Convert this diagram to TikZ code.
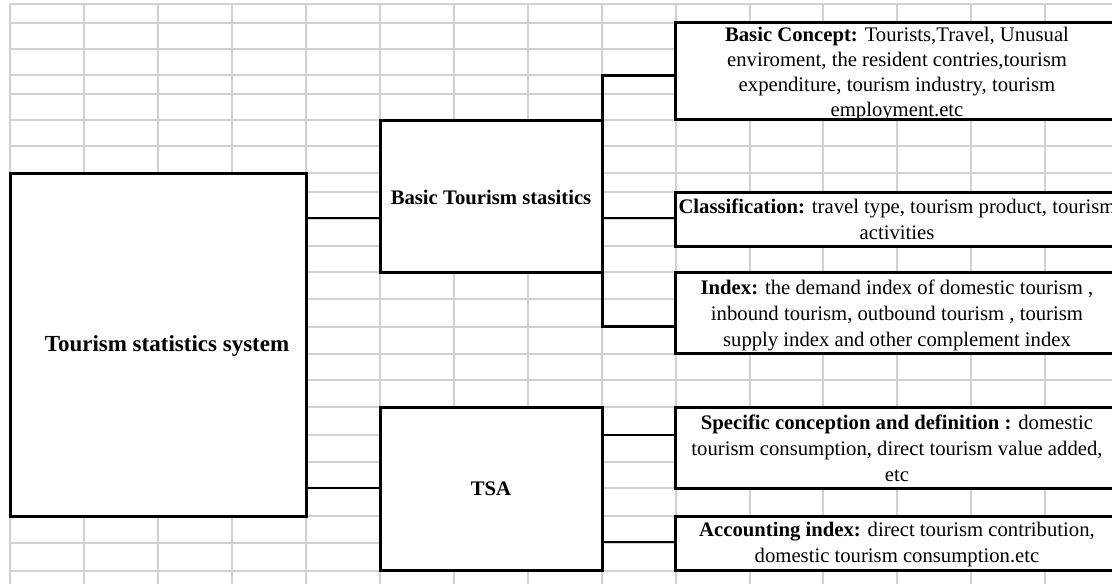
\documentclass[tikz,border=0pt]{standalone}
\usepackage{fontspec}
\setmainfont{Liberation Serif}
\begin{document}
\begin{tikzpicture}[x=1pt,y=-1pt,
  gridline/.style={draw=black!18, line width=1.2pt},
  box/.style={draw=black, line width=3pt, fill=white, rectangle, inner sep=0pt, outer sep=0pt, anchor=north west},
  conn/.style={draw=black, line width=2.2pt},
  brk/.style={draw=black, line width=3pt, line join=miter},
  txt/.style={font=\fontsize{20.7}{26}\selectfont, align=center, inner sep=0pt},
  ttl/.style={font=\fontsize{20.7}{25}\selectfont\bfseries, align=center, inner sep=0pt}]
\useasboundingbox (0,0) rectangle (1112,584);
\clip (0,0) rectangle (1112,584);
\fill[white] (0,0) rectangle (1112,584);
% spreadsheet grid
\foreach \x in {10,84,158,232,306,380,454,528,602,676,750,823,897,971,1045}
  \draw[gridline] (\x,4) -- (\x,584);
\foreach \y in {4,23,49,75,94,120,146,173,192,219,246,272,299,327,354,380,407,435,462,488,516,543,571}
  \draw[gridline] (10,\y) -- (1112,\y);
% boxes
\node[box, minimum width=296pt, minimum height=343pt] (main) at (10,173) {};
\node[box, minimum width=222pt, minimum height=152pt] (basic) at (380,120) {};
\node[box, minimum width=222pt, minimum height=163pt] (tsa) at (380,407) {};
\node[box, minimum width=444pt, minimum height=97pt] (bc) at (675,22) {};
\node[box, minimum width=444pt, minimum height=54pt] (cl) at (675,192) {};
\node[box, minimum width=444pt, minimum height=81pt] (ix) at (675,272) {};
\node[box, minimum width=444pt, minimum height=81pt] (sp) at (675,407) {};
\node[box, minimum width=444pt, minimum height=54pt] (ac) at (675,516) {};
% connector levels
\coordinate (ya) at (0,218);
\coordinate (yb) at (0,488);
\coordinate (bt) at (0,75);
\coordinate (bm) at (0,218);
\coordinate (bb) at (0,326);
\coordinate (tt) at (0,435);
\coordinate (tb) at (0,542);
% connectors
\draw[conn] (main.east |- ya) -- (basic.west |- ya);
\draw[conn] (main.east |- yb) -- (tsa.west |- yb);
\draw[brk] (bc.west |- bt) -- (basic.east |- bt) -- (basic.east |- bb) -- (ix.west |- bb);
\draw[conn] (basic.east |- bm) -- (cl.west |- bm);
\draw[conn] (tsa.east |- tt) -- (sp.west |- tt);
\draw[conn] (tsa.east |- tb) -- (ac.west |- tb);
% titles
\node[ttl, font=\fontsize{23}{27}\selectfont\bfseries] (maintxt) at ([xshift=9pt,yshift=-1pt]main.center) {Tourism statistics system};
\node[ttl] (basictxt) at ([yshift=-1pt]basic.center) {Basic Tourism stasitics};
\node[ttl] (tsatxt) at (tsa.center) {TSA};
% detail texts
\begin{scope}
\clip (bc.north west) rectangle (bc.south east);
\node[txt, font=\fontsize{20.7}{25}\selectfont] (bctxt) at ([yshift=-4pt]bc.center) {\textbf{Basic Concept:} Tourists,Travel, Unusual\\ enviroment, the resident contries,tourism\\ expenditure, tourism industry, tourism\\ employment.etc};
\end{scope}
\node[txt] (cltxt) at (cl.center) {\textbf{Classification:} travel type, tourism product, tourism\\ activities};
\node[txt] (ixtxt) at ([yshift=-3pt]ix.center) {\textbf{Index:} the demand index of domestic tourism ,\\ inbound tourism, outbound tourism , tourism\\ supply index and other complement index};
\node[txt] (sptxt) at ([yshift=-1pt]sp.center) {\textbf{Specific conception and definition :} domestic\\ tourism consumption, direct tourism value added,\\ etc};
\node[txt] (actxt) at ([yshift=-2pt]ac.center) {\textbf{Accounting index:} direct tourism contribution,\\ domestic tourism consumption.etc};
\end{tikzpicture}
\end{document}
